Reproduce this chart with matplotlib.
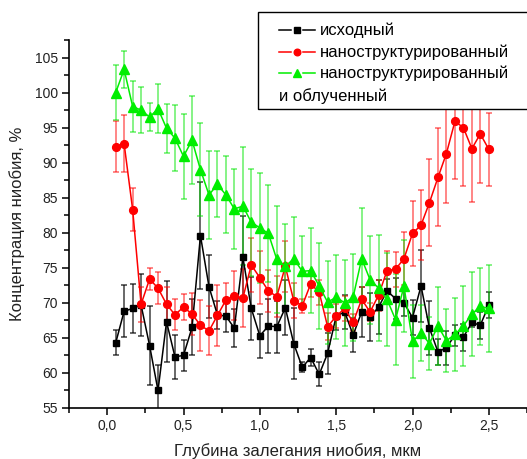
import matplotlib
matplotlib.use("Agg")

import matplotlib.pyplot as plt
from matplotlib.lines import Line2D
from matplotlib.patches import Rectangle
from matplotlib.ticker import MultipleLocator, FuncFormatter

# ------------------------------------------------------------
# Data
# ------------------------------------------------------------

depth = [
    0.056, 0.111, 0.167, 0.222, 0.278, 0.333, 0.389, 0.444, 0.500,
    0.556, 0.611, 0.667, 0.722, 0.778, 0.833, 0.889, 0.944, 1.000,
    1.056, 1.111, 1.167, 1.222, 1.278, 1.333, 1.389, 1.444, 1.500,
    1.556, 1.611, 1.667, 1.722, 1.778, 1.833, 1.889, 1.944, 2.000,
    2.056, 2.111, 2.167, 2.222, 2.278, 2.333, 2.389, 2.444, 2.500,
]

initial = [
    64.3, 68.8, 69.2, 69.7, 63.9, 57.5, 67.3, 62.3, 62.5,
    66.5, 79.6, 72.3, 68.3, 68.1, 66.4, 76.5, 69.2, 65.3,
    66.7, 66.6, 69.3, 64.2, 60.8, 62.2, 59.8, 62.8, 68.1,
    68.7, 65.4, 68.7, 68.0, 69.4, 71.7, 70.6, 70.0, 67.9,
    72.4, 66.4, 63.0, 63.6, 65.4, 65.1, 67.2, 66.8, 69.7,
]
initial_err = [
    1.8, 3.7, 3.5, 4.4, 5.6, 3.7, 5.8, 3.1, 2.2,
    4.0, 7.6, 4.5, 2.0, 2.3, 2.7, 5.9, 4.5, 3.1,
    3.8, 3.7, 3.9, 5.0, 0.7, 1.2, 1.7, 2.9, 2.0,
    2.4, 2.4, 3.5, 3.4, 3.8, 1.7, 2.9, 1.9, 2.5,
    5.2, 3.8, 1.9, 2.4, 1.5, 1.9, 0.7, 1.9, 1.9,
]

nano = [
    92.3, 92.7, 83.3, 69.8, 73.4, 72.1, 69.8, 68.3, 69.4,
    68.4, 66.8, 66.0, 68.2, 70.4, 71.0, 70.7, 75.4, 73.6,
    71.7, 70.9, 75.2, 70.3, 69.6, 72.7, 71.5, 66.6, 68.1,
    69.2, 67.2, 70.5, 68.7, 71.1, 74.6, 74.8, 76.3, 79.9,
    81.1, 84.3, 87.9, 91.3, 95.9, 95.0, 92.0, 94.1, 91.9,
]
nano_err = [
    3.7, 4.1, 3.1, 2.5, 1.6, 2.3, 2.4, 2.2, 1.8,
    3.0, 3.6, 3.5, 4.4, 2.5, 3.5, 4.2, 3.9, 3.8,
    3.0, 2.9, 3.6, 2.5, 1.0, 1.9, 1.8, 1.9, 1.7,
    1.8, 1.2, 1.7, 1.3, 2.2, 2.8, 2.5, 3.8, 4.7,
    5.0, 6.2, 7.0, 7.0, 8.3, 8.4, 7.6, 7.0, 5.2,
]

irradiated = [
    100.0, 103.3, 98.0, 97.5, 96.5, 97.7, 94.9, 93.5, 90.9,
    93.2, 89.0, 85.4, 86.9, 85.4, 83.4, 83.8, 81.5, 80.7,
    79.9, 76.2, 75.2, 76.3, 74.5, 74.6, 72.4, 70.1, 70.8,
    70.0, 70.8, 76.3, 73.3, 72.1, 70.5, 67.6, 72.4, 64.5,
    65.7, 64.2, 66.7, 64.6, 65.5, 66.7, 68.4, 69.5, 69.2,
]
irradiated_err = [
    3.9, 2.6, 3.6, 3.3, 2.0, 3.5, 3.5, 4.7, 6.1,
    6.3, 6.6, 6.3, 4.7, 5.5, 5.7, 8.4, 7.6, 7.8,
    6.9, 7.6, 6.0, 5.9, 5.0, 6.1, 6.1, 5.9, 6.0,
    6.1, 6.2, 7.3, 6.3, 7.6, 6.6, 6.5, 6.5, 5.2,
    4.0, 3.8, 5.6, 4.5, 5.2, 5.7, 6.0, 5.5, 6.2,
]

labels = [
    "исходный",
    "наноструктурированный",
    "наноструктурированный",
]
label_extra = "и облученный"

# ------------------------------------------------------------
# Figure
# ------------------------------------------------------------

plt.rcParams["font.family"] = ["Liberation Sans", "DejaVu Sans"]

W, H = 527, 459

fig = plt.figure(figsize=(W / 100, H / 100), dpi=100)

ax = fig.add_axes([69 / W, 51 / H, (W - 69) / W, (408 - 40) / H])

series = [
    (initial, initial_err, "black", (0, 0, 0, 0.75), "s", 4.8),
    (nano, nano_err, "red", (1, 0, 0, 0.6), "o", 5.6),
    (irradiated, irradiated_err, "#00ee00", (0, 0.9, 0, 0.6), "^", 6.5),
]

for values, errors, color, ecolor, marker, msize in series:

    ax.errorbar(
        depth,
        values,
        yerr=errors,
        color=color,
        ecolor=ecolor,
        elinewidth=1.1,
        capsize=2,
        capthick=1.1,
        marker=marker,
        markersize=msize,
        markeredgecolor=color,
        linewidth=1.1,
    )

ax.set_xlim(-0.25, 2.75)
ax.set_ylim(55, 107.5)

ax.xaxis.set_major_locator(MultipleLocator(0.5))
ax.xaxis.set_minor_locator(MultipleLocator(0.25))
ax.yaxis.set_major_locator(MultipleLocator(5))
ax.yaxis.set_minor_locator(MultipleLocator(2.5))

ax.xaxis.set_major_formatter(
    FuncFormatter(lambda v, p: f"{v:.1f}".replace(".", ","))
)
ax.yaxis.set_major_formatter(FuncFormatter(lambda v, p: f"{v:.0f}"))

ax.tick_params(which="major", direction="out", length=5, width=1.1,
               labelsize=10, pad=3, labelcolor="#222222")
ax.tick_params(which="minor", direction="out", length=3.5, width=1.1)

ax.spines["top"].set_visible(False)
ax.spines["right"].set_visible(False)
ax.spines["left"].set_linewidth(1.2)
ax.spines["bottom"].set_linewidth(1.2)

ax.set_xlabel("Глубина залегания ниобия, мкм", fontsize=12, labelpad=7,
              color="#222222")
ax.set_ylabel("Концентрация ниобия, %", fontsize=12, labelpad=7,
              color="#222222")

# ------------------------------------------------------------
# Legend (Origin style, last label wraps under the handles)
# ------------------------------------------------------------

def fx(px):
    return px / W


def fy(py):
    return 1 - py / H


box = Rectangle(
    (fx(258), fy(109)),
    fx(W + 40) - fx(258),
    fy(12) - fy(109),
    transform=fig.transFigure,
    facecolor="white",
    edgecolor="black",
    linewidth=1.0,
    zorder=10,
    clip_on=False,
)
fig.add_artist(box)

rows = [30, 52, 73]

for (values, errors, color, ecolor, marker, msize), label, row in zip(
    series, labels, rows
):

    for seg in ([279, 291], [303, 315]):

        fig.add_artist(Line2D(
            [fx(seg[0]), fx(seg[1])], [fy(row), fy(row)],
            transform=fig.transFigure, color=color, linewidth=1.1,
            zorder=11,
        ))

    fig.add_artist(Line2D(
        [fx(297)], [fy(row)], transform=fig.transFigure,
        marker=marker, markersize=msize * 0.85, color=color,
        markeredgecolor=color, linestyle="none", zorder=11,
    ))

    fig.text(fx(320), fy(row), label, fontsize=12, va="center",
             ha="left", zorder=12)

fig.text(fx(279), fy(96), label_extra, fontsize=12, va="center",
         ha="left", zorder=12)

fig.savefig("out.png", dpi=100)
